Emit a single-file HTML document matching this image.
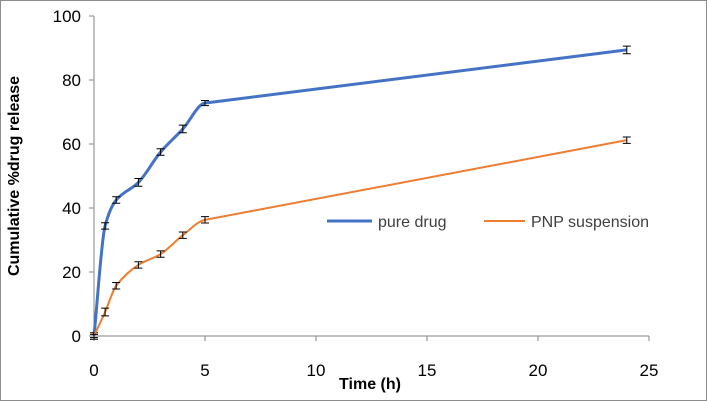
<!DOCTYPE html>
<html><head><meta charset="utf-8"><style>
html,body{margin:0;padding:0;background:#fff;}
svg{display:block;font-family:"Liberation Sans",sans-serif;}
</style></head><body>
<svg id="chart" width="707" height="402" viewBox="0 0 707 402">
<rect x="0.5" y="0.5" width="706" height="400" fill="#fff" stroke="#8c8c8c"/>
<g id="axes"></g>
<g id="series"></g>
<text x="19" y="176" transform="rotate(-90 19 176)" text-anchor="middle" font-size="16" font-weight="bold" fill="#000">Cumulative %drug release</text>
<text x="370" y="389" text-anchor="middle" font-size="16" font-weight="bold" fill="#000">Time (h)</text>
<g>
<line x1="327" y1="221" x2="372" y2="221" stroke="#4472c4" stroke-width="3"/>
<text x="378" y="227" font-size="16" fill="#404040">pure drug</text>
<line x1="484" y1="221" x2="525" y2="221" stroke="#ed7d31" stroke-width="2"/>
<text x="531" y="227" font-size="16" fill="#404040">PNP suspension</text>
</g>
</svg>
<script>
const times=[0,0.5,1,2,3,4,5,24];
const pureDrug=[0,34.4,42.5,48,57.5,64.7,72.8,89.4];
const pnp=[0,7.5,15.7,22.2,25.6,31.5,36.3,61.2];
const errPure=[1,1,1,1.2,1,1.2,0.8,1.2];
const errPnp=[0.5,1.2,1,1,1,1,1,1];
const xTicks=[0,5,10,15,20,25];
const yTicks=[0,20,40,60,80,100];
const NS="http://www.w3.org/2000/svg";
const X0=94,X1=649,Y0=336,Y1=16;
function xs(v){return X0+(v-0)/25*(X1-X0);}
function ys(v){return Y0-(v/100)*(Y0-Y1);}
function mk(tag,attrs,parent){const e=document.createElementNS(NS,tag);for(const k in attrs)e.setAttribute(k,attrs[k]);parent.appendChild(e);return e;}
const axes=document.getElementById('axes');
let l=mk('line',{x1:X0,y1:Y0,x2:X1,y2:Y0,stroke:'#868686'},axes);


l=mk('line',{x1:X0,y1:Y0,x2:X0,y2:Y1,stroke:'#868686'},axes);


xTicks.forEach(t=>{
 const tk=mk('line',{x1:xs(t),y1:Y0,x2:xs(t),y2:Y0+5,stroke:'#868686'},axes);
 
 
 const tx=mk('text',{x:xs(t),y:Y0+40,'text-anchor':'middle','font-size':'17',fill:'#000'},axes);
 tx.textContent=t;
 
 
});
yTicks.forEach(t=>{
 const tk=mk('line',{x1:X0-5,y1:ys(t),x2:X0,y2:ys(t),stroke:'#868686'},axes);
 
 
 const tx=mk('text',{x:X0-13,y:ys(t)+6,'text-anchor':'end','font-size':'17',fill:'#000'},axes);
 tx.textContent=t;
 
 
});
function smooth(pts){
 const n=pts.length,m=[];
 const d=[];
 for(let i=0;i<n-1;i++)d.push((pts[i+1][1]-pts[i][1])/(pts[i+1][0]-pts[i][0]));
 for(let i=0;i<n;i++){
  if(i===0)m.push(d[0]);else if(i>=n-2)m.push(d[n-2]);
  else m.push(d[i-1]*d[i]<=0?0:2/(1/d[i-1]+1/d[i]));
 }
 let s='M'+pts[0][0]+','+pts[0][1];
 for(let i=0;i<n-1;i++){
  const h=(pts[i+1][0]-pts[i][0])/3;
  s+=' C'+(pts[i][0]+h)+','+(pts[i][1]+m[i]*h)+' '+(pts[i+1][0]-h)+','+(pts[i+1][1]-m[i+1]*h)+' '+pts[i+1][0]+','+pts[i+1][1];
 }
 return s;
}
const sg=document.getElementById('series');
function drawSeries(vals,errs,color,w,name){
 const pts=times.map((t,i)=>[xs(t),ys(vals[i])]);
 const p=mk('path',{d:smooth(pts),fill:'none',stroke:color,'stroke-width':w},sg);
 
 
 times.forEach((t,i)=>{
  const x=xs(t),ya=ys(vals[i]+errs[i]),yb=ys(vals[i]-errs[i]);
  const g=mk('path',{d:`M${x},${ya}V${yb}M${x-4},${ya}H${x+4}M${x-4},${yb}H${x+4}`,stroke:'#000','stroke-width':1,fill:'none'},sg);
  
  
 });
}
drawSeries(pureDrug,errPure,'#4472c4',3,'pure-drug');
drawSeries(pnp,errPnp,'#ed7d31',2,'pnp-suspension');
</script>
</body></html>
